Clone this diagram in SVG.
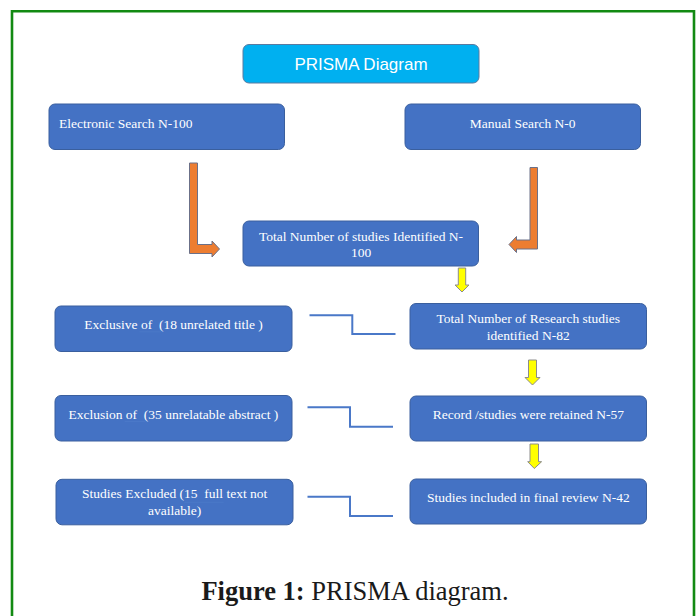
<svg xmlns="http://www.w3.org/2000/svg" width="697" height="616" viewBox="0 0 697 616">
<style>
.box{fill:#4472C4;stroke:#3a5f9e;stroke-width:1}
.t{font-family:"Liberation Serif","Times New Roman",serif;font-size:13.5px;fill:#ffffff}
.c{text-anchor:middle}
.conn{fill:none;stroke:#4a78c8;stroke-width:2}
.orange{fill:#ED7D31;stroke:#6b7088;stroke-width:1}
.yellow{fill:#FFFF00;stroke:#8c8c8c;stroke-width:1}
.ul{stroke:#4a78c8;stroke-width:1}
</style>
<rect width="697" height="616" fill="#ffffff"/>
<path d="M12,620 V11.3 H694 V620" fill="none" stroke="#128a12" stroke-width="2.6"/>

<g id="title">
<rect x="243" y="44.5" width="236" height="38.5" rx="6" fill="#00B0F0" stroke="#5a7aa0" stroke-width="1"/>
<text x="361" y="70" text-anchor="middle" style="font-family:'Liberation Sans',Arial,sans-serif;font-size:17px;fill:#ffffff">PRISMA Diagram</text>
</g>

<g id="electronic">
<rect class="box" x="49" y="104" width="235.5" height="45.5" rx="6"/>
<text class="t" x="59" y="127.5">Electronic Search N-100</text>
</g>

<g id="manual">
<rect class="box" x="405" y="104" width="235.5" height="45.5" rx="6"/>
<text class="t c" x="522.7" y="127.5">Manual Search N-0</text>
</g>

<g id="total">
<rect class="box" x="243" y="221" width="235.5" height="45" rx="6"/>
<text class="t c" x="361" y="240.7">Total Number of studies Identified N-</text>
<text class="t c" x="361" y="257.3">100</text>
</g>

<g id="exclusive">
<rect class="box" x="55" y="306" width="237" height="45.5" rx="6"/>
<text class="t c" x="173.6" y="328.5" xml:space="preserve">Exclusive of  (18 unrelated title )</text>
<line class="ul" x1="139.5" y1="331.8" x2="161" y2="331.8"/>
</g>

<g id="research">
<rect class="box" x="410" y="303.5" width="236.5" height="45.5" rx="6"/>
<text class="t c" x="528.3" y="323.3">Total Number of Research studies</text>
<text class="t c" x="528.3" y="340">identified N-82</text>
</g>

<g id="exclusion">
<rect class="box" x="55" y="395.5" width="237" height="45.5" rx="6"/>
<text class="t c" x="173.4" y="418.5" xml:space="preserve">Exclusion of  (35 unrelatable abstract )</text>
<line class="ul" x1="124.7" y1="421.5" x2="145.3" y2="421.5"/>
</g>

<g id="record">
<rect class="box" x="410" y="396" width="236.5" height="45" rx="6"/>
<text class="t c" x="528.3" y="418.5">Record /studies were retained N-57</text>
</g>

<g id="excluded">
<rect class="box" x="56" y="479.3" width="237" height="45.5" rx="6"/>
<text class="t c" x="174.7" y="498.3" xml:space="preserve">Studies Excluded (15  full text not</text>
<text class="t c" x="174.7" y="515">available)</text>
<line class="ul" x1="184.3" y1="502.3" x2="223.6" y2="502.3"/>
</g>

<g id="included">
<rect class="box" x="410" y="479" width="236.5" height="45" rx="6"/>
<text class="t c" x="528.3" y="501.7">Studies included in final review N-42</text>
</g>

<g id="connectors">
<path class="orange" d="M189.5,163 H197.5 V244.5 H212 V241 L219.5,249 L212,257 V253.5 H189.5 Z"/>
<path class="orange" d="M537.5,167.5 H530 V240 H516.5 V236.5 L509,244.5 L516.5,252.5 V249 H537.5 Z"/>
<path class="yellow" d="M458.3,268 H465.7 V285 H469 L462,292 L455,285 H458.3 Z"/>
<path class="yellow" d="M528.5,360 H536.5 V377.5 H540 L532.5,385 L525,377.5 H528.5 Z"/>
<path class="yellow" d="M530,444 H538.5 V461.7 H541.6 L534.3,468.5 L527.7,461.7 H530 Z"/>
<path class="conn" d="M309.5,315.3 H352.3 V334 H395.5"/>
<path class="conn" d="M307.5,407.3 H350 V426.7 H393"/>
<path class="conn" d="M307.5,496.7 H350 V516 H393"/>
</g>

<text x="355" y="600" text-anchor="middle" style="font-family:'Liberation Serif','Times New Roman',serif;font-size:26.5px;fill:#1a1a1a"><tspan font-weight="bold">Figure 1:</tspan> PRISMA diagram.</text>
</svg>
